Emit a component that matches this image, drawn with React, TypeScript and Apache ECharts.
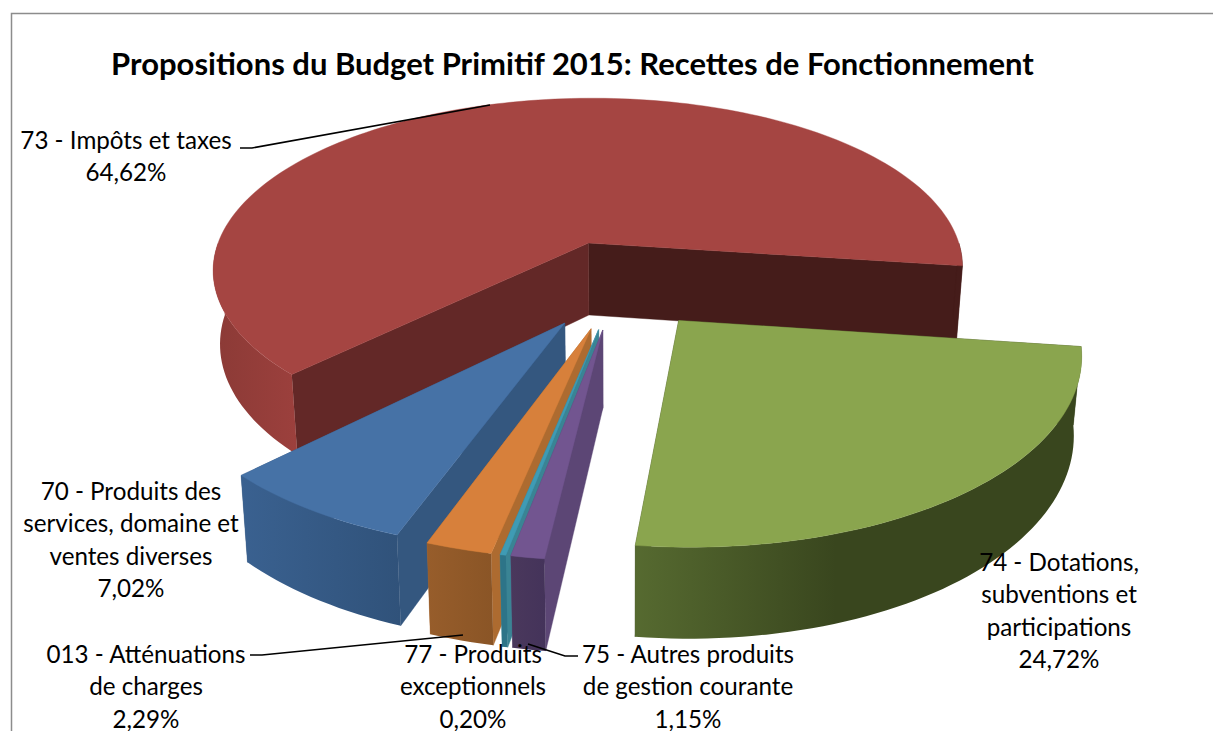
import React, { useEffect, useRef } from "react";
import * as echarts from "echarts";

const titleText = "Propositions du Budget Primitif 2015: Recettes de Fonctionnement";
// clockwise from the first slice
const categories = ["74", "75", "77", "013", "70", "73"];
const percentages = [24.72, 1.15, 0.2, 2.29, 7.02, 64.62];
const labelNames = [
  "74 - Dotations,\nsubventions et\nparticipations",
  "75 - Autres produits\nde gestion courante",
  "77 - Produits\nexceptionnels",
  "013 - Atténuations\nde charges",
  "70 - Produits des\nservices, domaine et\nventes diverses",
  "73 - Impôts et taxes",
];
const drawOrder = ["73", "74", "70", "013", "77", "75"];
const topColors = ["#8aa54e", "#725590", "#3f9bb4", "#d7803b", "#4672a6", "#a54542"];
const wallStart = ["#39461e", "#5c4675", "#3a8494", "#ad6b30", "#34577f", "#632827"];
const wallEnd = ["#39461e", "#5c4675", "#3a8494", "#ad6b30", "#34577f", "#451c1a"];
const rimStops: [number, string][][] = [
  [[0, "#566a30"], [0.45, "#39461e"], [1, "#39461e"]],
  [[0, "#4a385c"], [1, "#44335a"]],
  [[0, "#2d7488"], [1, "#2d7488"]],
  [[0, "#975d2b"], [1, "#8a5526"]],
  [[0, "#3a6190"], [1, "#30527a"]],
  [[0, "#8b3a36"], [1, "#9c403d"]],
];
// label centre x / first line centre y
const labelAnchors = [
  [1059, 562], [688, 654], [473, 654], [146, 654], [131, 491], [126, 140],
];
const leaderLines = [
  [[240, 148], [252, 148], [490, 105]],
  [[250, 655], [262, 655], [463, 635]],
  [[528, 644], [565, 656], [578, 656]],
];

const FIRST_ANGLE = 97.7;
const EXPLODE = 0.25;
const CX = 618, CY = 284, A = 384, B = 179, K = 0.155, H = 74.5, SHRINK = 0.017;
const FONT = "Lato";

const rad = (d: number) => (d * Math.PI) / 180;
const total = percentages.reduce((s, v) => s + v, 0);
const angles = percentages.reduce<number[]>(
  (acc, v) => [...acc, acc[acc.length - 1] + (v / total) * 360],
  [FIRST_ANGLE]
);

function project(u: number, v: number, z: number): number[] {
  const w = 1 + K * v;
  return [CX + ((A * u) / w) * (1 - SHRINK * z), CY - (B * v) / w + (H * z) / w];
}

function frontIntervals(a0: number, a1: number): number[][] {
  // the outer wall faces the viewer between 90 and 270 degrees, clockwise from the back
  const out: number[][] = [];
  for (const [f0, f1] of [[90, 270], [450, 630]]) {
    const s = Math.max(a0, f0);
    const e = Math.min(a1, f1);
    if (e > s) out.push([s, e]);
  }
  return out;
}

function renderSlice(_params: any, api: any) {
  const i = api.value(1);
  const a0 = angles[i];
  const a1 = angles[i + 1];
  const mid = rad((a0 + a1) / 2);
  const ox = EXPLODE * Math.sin(mid);
  const oy = EXPLODE * Math.cos(mid);
  const point = (a: number, z: number) => project(ox + Math.sin(rad(a)), oy + Math.cos(rad(a)), z);
  const arc = (s: number, e: number, z: number) => {
    const n = Math.max(2, Math.ceil((e - s) / 1.5));
    return Array.from({ length: n + 1 }, (_, j) => point(s + ((e - s) * j) / n, z));
  };
  const apexTop = project(ox, oy, 0);
  const apexBottom = project(ox, oy, 1);
  const poly = (points: number[][], fill: any) => ({
    type: "polygon",
    shape: { points },
    style: { fill, stroke: typeof fill === "string" ? fill : undefined, lineWidth: typeof fill === "string" ? 0.4 : 0 },
  });
  return {
    type: "group",
    children: [
      poly([apexTop, point(a1, 0), point(a1, 1), apexBottom], wallEnd[i]),
      poly([apexTop, point(a0, 0), point(a0, 1), apexBottom], wallStart[i]),
      ...frontIntervals(a0, a1).map(([s, e]) =>
        poly(
          [...arc(s, e, 0), ...arc(s, e, 1).reverse()],
          s >= 450
            ? wallEnd[i]
            : new echarts.graphic.LinearGradient(
                0, 0, 1, 0,
                rimStops[i].map(([offset, color]) => ({ offset, color }))
              )
        )
      ),
      poly([apexTop, ...arc(a0, a1, 0)], topColors[i]),
    ],
  };
}

const pct = (v: number) => v.toFixed(2).replace(".", ",") + "%";

export default function App() {
  const ref = useRef<HTMLDivElement>(null);
  useEffect(() => {
    const chart = echarts.init(ref.current!, undefined, { renderer: "svg" });
    chart.setOption({
      animation: false,
      backgroundColor: "#ffffff",
      series: [
        {
          type: "custom",
          coordinateSystem: "none",
          renderItem: renderSlice,
          data: drawOrder.map((c) => {
            const i = categories.indexOf(c);
            return [percentages[i], i];
          }),
          silent: true,
          z: 1,
        },
      ],
      graphic: [
        {
          type: "polyline",
          z: 5,
          shape: { points: [[11.5, 731], [11.5, 13.5], [1213, 13.5]] },
          style: { stroke: "#8c8c8c", lineWidth: 1.5, fill: "none" },
        },
        {
          type: "text",
          z: 10,
          x: 572.5,
          y: 63,
          style: {
            text: titleText,
            fill: "#000",
            font: `bold 31px ${FONT}`,
            textAlign: "center",
            textVerticalAlign: "middle",
          },
        },
        ...leaderLines.map((points) => ({
          type: "polyline",
          z: 8,
          shape: { points },
          style: { stroke: "#000", lineWidth: 1.6, fill: "none" },
        })),
        ...categories.map((_, i) => ({
          type: "text",
          z: 10,
          x: labelAnchors[i][0],
          y: labelAnchors[i][1] - 17,
          style: {
            text: labelNames[i] + "\n" + pct(percentages[i]),
            fill: "#000",
            font: `24.2px ${FONT}`,
            lineHeight: 32.4,
            textAlign: "center",
            textVerticalAlign: "top",
          },
        })),
      ],
    });
    return () => chart.dispose();
  }, []);
  return <div ref={ref} style={{ position: "fixed", left: 0, top: 0, width: 1213, height: 731 }} />;
}
